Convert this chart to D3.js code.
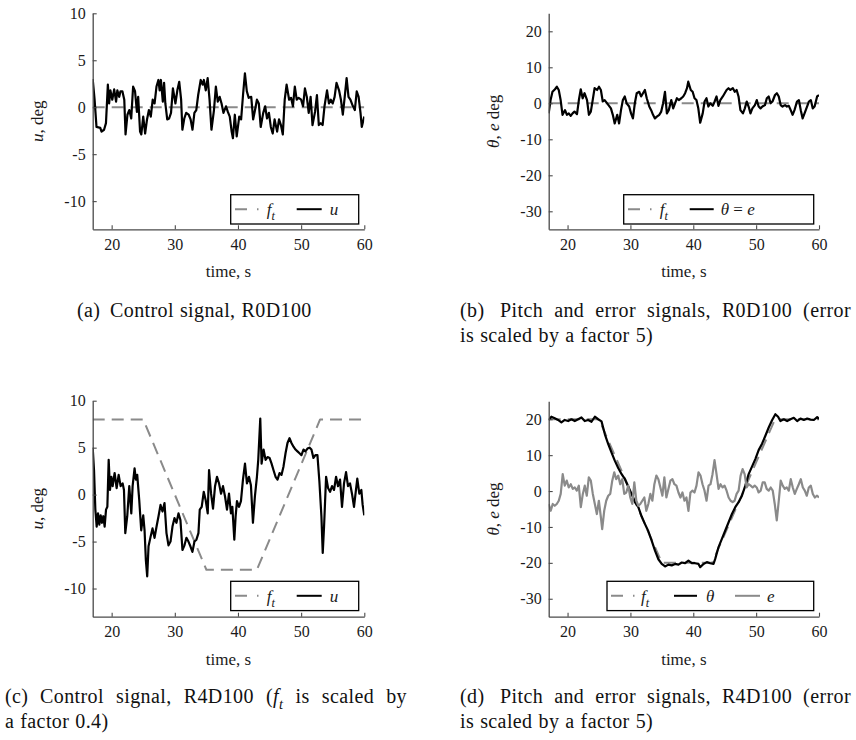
<!DOCTYPE html>
<html>
<head>
<meta charset="utf-8">
<script src="https://cdn.jsdelivr.net/npm/d3@7"></script>
<style>
  html, body { margin: 0; padding: 0; background: #fff; }
  svg { display: block; }
  svg text { font-family: "Liberation Serif", "Times New Roman", serif; }
  svg text.caption { letter-spacing: 0.4px; }
</style>
</head>
<body>
<svg id="fig" width="856" height="740"></svg>
<script>
// ---------------- data ----------------
const timeDomain = [17, 60];
const xTicks = [20, 30, 40, 50, 60];
const yTicksU = [-10, -5, 0, 5, 10];
const yTicksPitch = [-30, -20, -10, 0, 10, 20];

// target forcing function f_t (deg)
const ftZeroTime = [17, 60];
const ftZeroValue = [0, 0];
const ftRampTime = [17, 25, 35, 43, 53, 60];
const ftRampValue = [20, 20, -20, -20, 20, 20];
const ftScaleC = 0.4;

// R0D100 control signal u
const timeA = [17.0,17.3,17.6,18.2,18.4,18.8,19.1,19.4,19.6,19.8,
  20.1,20.4,20.7,20.9,21.2,21.4,21.7,22.0,22.2,22.5,
  22.8,23.1,23.4,23.7,24.0,24.2,24.5,24.7,25.0,25.3,
  25.6,25.9,26.2,26.5,26.8,27.1,27.4,27.6,27.8,28.1,
  28.3,28.5,28.8,29.1,29.4,29.7,30.1,30.4,30.7,31.0,
  31.2,31.5,31.8,32.2,32.5,32.8,33.1,33.4,33.7,34.1,
  34.4,34.6,34.9,35.2,35.5,35.8,36.2,36.5,36.8,37.1,
  37.4,37.7,38.1,38.4,38.7,39.0,39.2,39.5,39.8,40.2,
  40.5,40.8,41.1,41.4,41.7,42.1,42.4,42.7,43.0,43.3,
  43.6,44.0,44.3,44.6,44.9,45.2,45.5,45.8,46.2,46.5,
  46.8,47.1,47.4,47.7,48.1,48.4,48.7,49.0,49.3,49.6,
  50.0,50.3,50.6,50.9,51.2,51.5,51.8,52.2,52.5,52.8,
  53.1,53.4,53.7,54.1,54.4,54.7,55.0,55.3,55.6,56.0,
  56.3,56.6,56.9,57.2,57.5,57.8,58.2,58.5,58.8,59.1,
  59.4,59.6,60.0];
const uA = [3.0,0.8,-2.1,-2.2,-2.6,-2.4,-1.7,2.4,0.4,1.8,
  0.8,1.9,0.6,1.8,1.1,1.7,1.7,0.8,-2.9,-0.8,
  -0.3,-1.2,2.2,1.7,-0.5,1.1,-2.6,-2.9,-1.0,-2.8,
  -1.3,-0.3,-1.0,0.8,0.4,2.2,2.9,1.8,2.9,0.6,
  2.6,0.4,-1.3,-1.2,-0.6,2.0,0.4,1.8,2.7,0.8,
  -2.4,-1.2,-0.6,-0.8,-1.3,-2.4,-0.6,-0.3,1.3,2.9,
  2.4,2.9,1.8,3.1,0.8,-2.4,-0.3,2.2,0.6,1.1,
  0.4,-0.6,0.1,-0.5,-1.0,-2.6,-3.3,-0.8,-3.1,-1.0,
  -1.3,1.3,3.6,1.7,1.0,1.1,-1.3,-0.3,0.8,0.4,
  -2.1,-0.6,0.1,-1.2,-0.6,-2.1,-2.8,-1.3,-2.6,-1.3,
  -1.9,-2.9,0.8,2.4,0.8,1.0,0.1,2.2,0.8,1.0,
  0.8,0.1,2.0,1.1,-0.6,1.1,-1.9,-0.5,1.3,-1.9,
  -1.7,-1.9,0.1,1.8,0.4,0.8,0.4,1.1,2.6,1.8,
  0.8,-0.8,1.1,3.1,1.1,0.8,0.1,-0.3,1.7,1.1,
  -0.6,-2.1,-1.0];

// R0D100 pitch (= error)
const timeB = [17.0,17.3,17.6,18.0,18.3,18.6,18.9,19.2,19.6,19.9,
  20.2,20.5,20.8,21.1,21.5,21.8,22.1,22.4,22.7,23.1,
  23.4,23.7,24.0,24.3,24.7,25.0,25.3,25.6,25.9,26.3,
  26.6,26.9,27.2,27.5,27.9,28.2,28.5,28.8,29.1,29.4,
  29.8,30.1,30.4,30.7,31.0,31.4,31.7,32.0,32.3,32.6,
  33.0,33.3,33.6,33.9,34.2,34.6,34.9,35.2,35.5,35.8,
  36.1,36.5,36.8,37.1,37.4,37.7,38.1,38.4,38.7,39.0,
  39.2,
  39.6,39.9,40.2,40.5,40.8,41.1,41.5,41.8,42.1,42.4,
  42.7,43.1,43.4,43.7,44.0,44.3,44.7,45.0,45.3,45.6,
  45.9,46.3,46.6,46.9,47.2,47.5,47.9,48.2,48.5,48.8,
  49.1,49.4,49.8,50.1,50.4,50.7,51.0,51.4,51.7,52.0,
  52.3,52.6,53.0,53.3,53.6,53.9,54.2,54.6,54.9,55.2,
  55.5,55.8,56.1,56.5,56.8,57.1,57.4,57.7,58.1,58.4,
  58.7,59.0,59.3,59.7,60.0];
const thetaB = [-2.8,0.9,3.2,3.9,4.6,3.7,0.9,-3.2,-1.9,-3.2,
  -2.8,-3.5,-2.8,-2.3,-3.0,0.9,3.9,1.4,2.8,0.9,
  -3.2,-2.3,0.9,4.2,3.7,4.6,3.7,0.5,0.9,0.0,
  -0.7,-1.4,-3.2,-5.6,-3.2,-5.6,-1.9,0.9,1.9,0.0,
  -0.9,-2.8,-4.2,0.0,2.8,3.2,1.9,2.8,3.7,1.4,
  -0.9,-1.9,-3.2,-4.2,-3.7,-3.2,-2.3,0.0,3.2,-2.8,
  -1.9,0.9,-1.4,0.0,1.4,0.9,1.4,1.9,2.8,4.2,
  6.0,
  3.7,3.2,1.4,0.9,-1.4,-5.4,-2.8,0.5,1.4,-0.9,
  0.0,-0.7,0.5,1.9,-0.7,0.9,1.9,2.8,3.7,4.2,
  3.7,4.2,3.2,3.7,1.9,-1.9,-2.8,-1.4,0.5,-0.9,
  -2.8,-1.4,-0.5,0.9,-0.9,-1.4,-0.9,-0.5,1.4,1.9,
  0.0,0.5,2.3,2.8,1.9,-0.5,-0.9,-0.5,-0.9,-0.7,
  -1.9,-3.2,-1.9,0.5,0.9,-1.9,-4.2,-2.8,-0.9,0.5,
  0.9,-1.4,-0.9,1.9,2.3];

// R4D100 control signal u
const timeC = [17.0,17.21,17.42,17.63,17.84,18.05,18.26,18.47,18.68,18.89,
  19.11,19.32,19.53,19.74,19.95,20.16,20.47,20.79,21.11,21.42,
  21.74,21.95,22.16,22.47,22.79,23.11,23.32,23.63,23.84,24.05,
  24.37,24.68,25.0,25.21,25.42,25.63,25.84,26.16,26.47,26.79,
  27.11,27.42,27.74,28.05,28.37,28.68,29.0,29.32,29.63,29.95,
  30.26,30.58,30.89,31.21,31.53,31.84,32.16,32.47,32.79,33.11,
  33.42,33.74,33.95,34.26,34.58,34.89,35.21,35.42,35.74,36.05,
  36.37,36.68,37.0,37.32,37.63,37.95,38.26,38.58,38.89,39.11,
  39.42,39.63,39.84,40.16,40.47,40.79,41.11,41.42,41.74,42.05,
  42.37,42.68,43.0,43.21,43.53,43.74,44.05,44.37,44.68,45.0,
  45.32,45.63,45.95,46.26,46.58,46.89,47.21,47.53,47.84,48.16,
  48.47,48.79,49.11,49.42,49.74,50.05,50.37,50.68,51.0,51.32,
  51.63,51.95,52.26,52.58,52.89,53.21,53.42,53.63,53.95,54.26,
  54.58,54.89,55.21,55.53,55.84,56.16,56.47,56.79,57.11,57.42,
  57.74,58.05,58.37,58.68,58.89,59.21,59.53,59.74,60.0];
const uC = [5.0,2.6,-1.6,-3.4,-2.0,-3.2,-2.2,-3.0,-2.3,-3.4,
  -1.6,-1.3,3.7,0.5,1.9,0.9,2.3,0.7,2.1,0.9,
  1.2,0.5,-4.1,-2.3,0.9,-2.0,0.9,2.8,1.6,2.1,
  -0.6,-3.8,-2.2,-3.8,-7.0,-8.7,-5.5,-4.5,-3.6,-4.6,
  -3.4,-2.3,-1.1,-1.8,-0.9,-4.1,-5.4,-5.0,-3.4,-2.5,
  -3.0,-2.0,-2.7,-5.9,-5.4,-4.6,-5.0,-5.5,-6.1,-5.0,
  -4.8,-4.1,-1.6,-1.3,0.3,-0.6,-2.0,2.6,0.1,-1.5,
  0.9,1.9,1.2,0.1,0.9,-0.2,-1.6,0.1,-2.0,-1.3,
  -4.8,-2.3,-0.7,-1.3,-0.7,1.6,3.3,1.2,1.9,1.0,
  -3.0,-0.2,1.9,3.7,8.1,3.3,4.8,3.7,4.0,3.9,
  3.3,2.6,1.9,1.6,2.3,2.1,3.0,4.4,5.5,6.0,
  5.5,5.1,4.8,4.6,4.4,4.2,4.8,4.6,4.9,5.0,
  4.8,3.9,4.2,4.2,1.4,-2.3,-6.2,-3.4,1.9,0.7,
  0.3,0.9,0.5,1.9,0.9,1.6,-1.3,1.2,2.4,0.9,
  1.2,0.1,-1.3,0.5,1.7,0.1,0.5,-1.1,-2.2];

// R4D100 pitch theta
const timeDTheta = [17.0,17.43,17.96,18.49,19.02,19.55,20.09,20.62,21.15,21.68,
  22.21,22.74,23.28,23.81,24.34,24.87,25.4,25.94,26.47,27.0,
  27.53,28.06,28.6,29.13,29.66,30.19,30.72,31.26,31.79,32.32,
  32.85,33.38,33.91,34.45,34.98,35.51,36.04,36.57,37.11,37.64,
  38.17,38.7,39.23,39.77,40.3,40.83,41.1,41.63,42.16,42.69,
  43.22,43.49,44.02,44.55,45.09,45.62,46.15,46.68,47.21,47.74,
  48.28,48.81,49.34,49.87,50.4,50.94,51.47,52.0,52.53,53.06,
  53.49,53.86,54.39,54.93,55.46,55.99,56.52,57.05,57.59,58.12,
  58.65,59.18,59.71,60.0];
const thetaD = [19.8,20.7,20.3,19.8,19.1,19.8,19.5,20.0,19.5,20.0,
  20.5,19.5,19.8,19.3,20.7,20.0,19.4,15.8,13.1,10.7,
  8.4,6.4,4.7,3.3,1.2,-0.8,-3.1,-4.5,-7.1,-9.2,
  -11.2,-13.8,-16.6,-19.0,-20.3,-21.0,-20.5,-20.7,-20.3,-20.5,
  -19.9,-20.1,-19.4,-20.1,-20.1,-20.3,-21.2,-20.3,-19.8,-20.1,
  -20.3,-18.9,-15.6,-13.3,-11.0,-8.7,-6.4,-4.5,-3.1,-1.3,
  1.5,4.7,6.8,8.9,11.4,13.2,15.4,17.7,19.7,21.4,
  20.7,19.5,20.0,19.5,20.0,20.4,19.5,20.2,19.8,20.2,
  19.9,19.8,20.6,20.1];

// R4D100 error e (already scaled by 5)
const timeDError = [17.0,17.32,17.64,17.96,18.28,18.6,18.91,19.23,19.55,19.87,
  20.19,20.51,20.83,21.15,21.47,21.79,22.11,22.43,22.74,23.06,
  23.38,23.7,24.02,24.34,24.66,24.98,25.3,
  25.51,
  25.83,26.15,26.47,26.79,27.11,27.43,27.74,28.06,28.38,28.7,
  29.02,29.34,29.66,29.98,30.3,30.62,30.94,31.26,31.57,31.89,
  32.21,32.53,32.85,33.17,33.49,33.81,34.13,34.45,34.77,35.09,
  35.4,35.72,36.04,36.36,36.68,37.0,37.32,37.64,37.96,38.28,
  38.6,38.91,39.23,39.55,39.87,40.19,40.51,40.83,41.15,41.47,
  41.79,42.11,42.43,42.74,43.06,43.38,43.7,44.02,44.34,44.66,
  44.98,45.3,45.62,45.94,46.26,46.57,46.89,47.21,47.53,47.85,
  48.17,48.49,48.81,49.13,49.45,49.77,50.09,50.4,50.72,51.04,
  51.36,51.68,52.0,52.32,52.64,52.96,53.28,53.6,53.91,54.23,
  54.55,54.87,55.19,55.51,55.83,56.15,56.47,56.79,57.11,57.43,
  57.74,58.06,58.38,58.7,59.02,59.34,59.66,
  60.0];
const errorD = [-3.6,-5.5,-3.6,-4.1,-3.6,-2.7,-0.8,4.7,1.5,2.9,
  1.0,1.9,0.6,1.0,0.1,1.5,-4.5,-0.8,1.5,-1.3,
  3.8,2.9,-0.8,-3.6,-6.4,-2.7,-7.3,
  -10.6,
  -5.5,-2.7,-1.3,-0.8,2.9,5.2,3.3,4.3,1.9,3.3,
  -0.8,-0.4,1.5,-1.8,-3.6,2.4,-2.7,-4.1,-3.6,-2.7,
  -1.8,-5.5,-3.6,-0.8,-2.7,1.9,4.3,3.3,1.0,-1.3,
  3.8,-1.8,0.6,2.9,3.3,1.9,1.5,-0.4,-1.8,-0.4,
  -2.7,-1.8,-5.5,-0.4,0.1,-0.4,1.5,5.2,4.3,1.9,
  0.1,-2.7,1.5,1.9,4.7,8.6,4.7,0.6,1.9,1.0,
  1.5,0.1,-1.8,-2.7,-3.1,-2.7,-0.8,0.1,4.3,6.1,
  4.7,1.0,1.9,1.5,1.0,1.5,1.0,-0.4,0.1,2.4,
  2.4,0.6,0.1,1.0,0.1,-3.6,-8.2,-2.7,2.9,1.5,
  0.6,1.0,0.1,3.3,1.0,-0.8,0.6,1.9,3.3,1.0,
  0.1,-1.3,1.0,1.5,-0.8,-1.8,-1.3,
  -1.8];

// ---------------- styling ----------------
const FONT = '"Liberation Serif", "Times New Roman", serif';
const BLACK = '#000000';
const GREY = '#8a8a8a';
const AXIS = '#4a4a4a';
const PLOT_DASH = '12,7';
const LINE_W = 2.2;

const svg = d3.select('#fig');

// Append styled pieces (italic / subscript) to a text element.
function addPieces(textSel, pieces, size) {
  let shift = 0;
  pieces.forEach(p => {
    const ts = textSel.append('tspan').text(p.t);
    if (p.i) ts.style('font-style', 'italic');
    const target = p.sub ? size * 0.28 : 0;
    if (target !== shift) { ts.attr('dy', target - shift); shift = target; }
    if (p.sub) ts.style('font-size', (size * 0.72) + 'px');
  });
  return textSel;
}

function drawPanel(cfg) {
  const g = svg.append('g');
  const x = d3.scaleLinear().domain(timeDomain).range([cfg.left, cfg.right]);
  const y = d3.scaleLinear().domain(cfg.yDomain).range([cfg.bottom, cfg.top]);

  const clipId = 'clip-' + cfg.id;
  svg.append('clipPath').attr('id', clipId).append('rect')
    .attr('x', cfg.left).attr('y', cfg.top)
    .attr('width', cfg.right - cfg.left).attr('height', cfg.bottom - cfg.top);

  const line = d3.line().x(d => x(d[0])).y(d => y(d[1]));
  const lines = g.append('g').attr('clip-path', `url(#${clipId})`);
  cfg.series.forEach(s => {
    const k = s.scale || 1;
    const pts = s.t.map((t, i) => [t, s.v[i] * k]);
    lines.append('path')
      .attr('d', line(pts))
      .attr('fill', 'none')
      .attr('stroke', s.color)
      .attr('stroke-width', s.width)
      .attr('stroke-linejoin', 'round')
      .attr('stroke-dasharray', s.dash || null);
  });

  const fmt = d => String(d);
  const yAxis = d3.axisLeft(y).tickValues(cfg.yTicks).tickFormat(fmt)
    .tickSizeInner(-4).tickSizeOuter(0).tickPadding(7);
  const xAxis = d3.axisBottom(x).tickValues(xTicks).tickFormat(fmt)
    .tickSizeInner(-4).tickSizeOuter(0).tickPadding(9);

  const gy = g.append('g').attr('transform', `translate(${cfg.left},0)`).call(yAxis);
  const gx = g.append('g').attr('transform', `translate(0,${cfg.bottom})`).call(xAxis);
  [gx, gy].forEach(a => {
    a.attr('font-family', null).attr('font-size', null);
    a.select('.domain').attr('stroke', AXIS).attr('stroke-width', 1.3);
    a.selectAll('.tick line').attr('stroke', AXIS).attr('stroke-width', 1.1);
    a.selectAll('.tick text').attr('fill', '#1a1a1a')
      .style('font-family', FONT).style('font-size', '16px');
  });

  // axis titles
  const cx = (cfg.left + cfg.right) / 2;
  svg.append('text').attr('x', cx).attr('y', cfg.bottom + 48)
    .attr('text-anchor', 'middle').style('font-size', '17px')
    .attr('fill', '#1a1a1a').text('time, s');
  const cy = (cfg.top + cfg.bottom) / 2;
  addPieces(
    svg.append('text')
      .attr('transform', `translate(${cfg.ylabX},${cy}) rotate(-90)`)
      .attr('text-anchor', 'middle').style('font-size', '17px')
      .attr('fill', '#1a1a1a'),
    cfg.ylabel, 17);

  // legend
  const L = cfg.legend;
  const lg = svg.append('g').attr('transform', `translate(${L.x},${L.y})`);
  lg.append('rect').attr('width', L.w).attr('height', L.h)
    .attr('fill', '#fff').attr('stroke', '#000').attr('stroke-width', 1.3);
  L.items.forEach(it => {
    lg.append('line')
      .attr('x1', it.x0).attr('x2', it.x1).attr('y1', 14.5).attr('y2', 14.5)
      .attr('stroke', it.color).attr('stroke-width', it.width)
      .attr('stroke-dasharray', it.dash || null);
    addPieces(
      lg.append('text').attr('x', it.tx).attr('y', 20.5)
        .style('font-size', '17px').attr('fill', '#1a1a1a'),
      it.label, 17);
  });
}

const ftLabel = [{ t: 'f', i: true }, { t: 't', i: true, sub: true }];
const ftLegendDash = '12,10,1.5,10';

// (a)
drawPanel({
  id: 'a', left: 92.7, right: 364.3, top: 13.3, bottom: 229.3,
  yDomain: [-13, 10], yTicks: yTicksU, ylabX: 43,
  ylabel: [{ t: 'u', i: true }, { t: ', deg' }],
  series: [
    { t: ftZeroTime, v: ftZeroValue, color: GREY, width: 2, dash: PLOT_DASH },
    { t: timeA, v: uA, color: BLACK, width: LINE_W }
  ],
  legend: { x: 230.7, y: 194.7, w: 128, h: 29.3, items: [
    { x0: 4.3, x1: 28, color: GREY, width: 2, dash: ftLegendDash, tx: 36, label: ftLabel },
    { x0: 66, x1: 91, color: BLACK, width: 2, tx: 99, label: [{ t: 'u', i: true }] }
  ]}
});

// (b)
drawPanel({
  id: 'b', left: 548.7, right: 819, top: 13.3, bottom: 229.3,
  yDomain: [-35, 25], yTicks: yTicksPitch, ylabX: 499,
  ylabel: [{ t: 'θ', i: true }, { t: ', ' }, { t: 'e', i: true }, { t: ' deg' }],
  series: [
    { t: ftZeroTime, v: ftZeroValue, color: GREY, width: 2, dash: PLOT_DASH },
    { t: timeB, v: thetaB, color: BLACK, width: LINE_W }
  ],
  legend: { x: 623.7, y: 194.7, w: 190, h: 29.3, items: [
    { x0: 4.3, x1: 28, color: GREY, width: 2, dash: ftLegendDash, tx: 36, label: ftLabel },
    { x0: 66, x1: 90, color: BLACK, width: 2, tx: 97,
      label: [{ t: 'θ', i: true }, { t: ' = ' }, { t: 'e', i: true }] }
  ]}
});

// (c)
drawPanel({
  id: 'c', left: 92.7, right: 364.3, top: 400.7, bottom: 616.7,
  yDomain: [-13, 10], yTicks: yTicksU, ylabX: 43,
  ylabel: [{ t: 'u', i: true }, { t: ', deg' }],
  series: [
    { t: ftRampTime, v: ftRampValue, scale: ftScaleC, color: GREY, width: 2, dash: PLOT_DASH },
    { t: timeC, v: uC, color: BLACK, width: LINE_W }
  ],
  legend: { x: 230.7, y: 581.3, w: 128, h: 29.3, items: [
    { x0: 4.3, x1: 28, color: GREY, width: 2, dash: ftLegendDash, tx: 36, label: ftLabel },
    { x0: 66, x1: 91, color: BLACK, width: 2, tx: 99, label: [{ t: 'u', i: true }] }
  ]}
});

// (d)
drawPanel({
  id: 'd', left: 548.7, right: 819, top: 401.3, bottom: 616.7,
  yDomain: [-35, 25], yTicks: yTicksPitch, ylabX: 499,
  ylabel: [{ t: 'θ', i: true }, { t: ', ' }, { t: 'e', i: true }, { t: ' deg' }],
  series: [
    { t: ftRampTime, v: ftRampValue, color: GREY, width: 2, dash: PLOT_DASH },
    { t: timeDTheta, v: thetaD, color: BLACK, width: LINE_W },
    { t: timeDError, v: errorD, color: GREY, width: LINE_W }
  ],
  legend: { x: 607, y: 581.3, w: 206.7, h: 29.3, items: [
    { x0: 4, x1: 28, color: GREY, width: 2, dash: ftLegendDash, tx: 34, label: ftLabel },
    { x0: 67, x1: 90, color: BLACK, width: 2, tx: 99, label: [{ t: 'θ', i: true }] },
    { x0: 128, x1: 153, color: GREY, width: 2, tx: 160, label: [{ t: 'e', i: true }] }
  ]}
});

// ---------------- sub-figure captions ----------------
const CAP = 20;
function captionWord(x, y, pieces) {
  const t = svg.append('text').attr('class', 'caption').attr('x', x).attr('y', y)
    .style('font-size', CAP + 'px').attr('fill', '#111');
  addPieces(t, pieces, CAP);
  return t;
}
// Lay out a line of words; when `justifyTo` is set, spread them to that right edge.
function captionLine(x, y, words, justifyTo) {
  const nodes = words.map(w => captionWord(x, y, w));
  const widths = nodes.map(n => n.node().getComputedTextLength());
  const total = d3.sum(widths);
  const space = CAP * 0.3;
  const gap = justifyTo != null && words.length > 1
    ? (justifyTo - x - total) / (words.length - 1) : space;
  let cur = x;
  nodes.forEach((n, i) => { n.attr('x', cur); cur += widths[i] + gap; });
}
const plain = s => s.split(' ').map(w => [{ t: w }]);

captionWord(77, 317, [{ t: '(a)' }]);
captionLine(110, 317, plain('Control signal, R0D100'));

captionWord(460, 317, [{ t: '(b)' }]);
captionLine(500, 317, plain('Pitch and error signals, R0D100 (error'), 851);
captionLine(460, 342, plain('is scaled by a factor 5)'));

captionWord(5, 703, [{ t: '(c)' }]);
captionLine(40, 703, [
  ...plain('Control signal, R4D100'),
  [{ t: '(' }, { t: 'f', i: true }, { t: 't', i: true, sub: true }],
  ...plain('is scaled by')
], 407);
captionLine(5, 728, plain('a factor 0.4)'));

captionWord(460, 703, [{ t: '(d)' }]);
captionLine(500, 703, plain('Pitch and error signals, R4D100 (error'), 851);
captionLine(460, 728, plain('is scaled by a factor 5)'));
</script>
</body>
</html>
